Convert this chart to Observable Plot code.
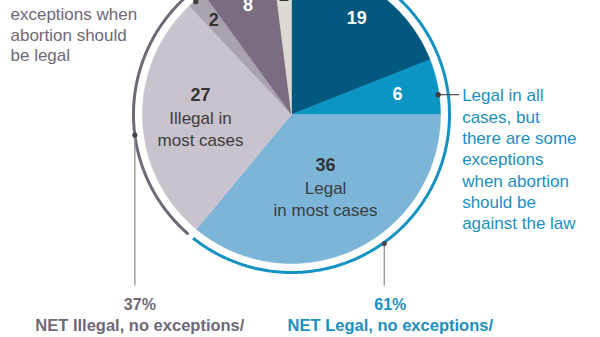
<!DOCTYPE html>
<html>
<head>
<meta charset="utf-8">
<script src="https://cdn.jsdelivr.net/npm/d3@7"></script>
<script src="https://cdn.jsdelivr.net/npm/@observablehq/plot@0.6"></script>
<style>
  html, body { margin: 0; padding: 0; background: #fff; }
  #chart svg { display: block; }
</style>
</head>
<body>
<div id="chart"></div>
<script>
// ---------- data ----------
const categories = [
  "Legal in all cases, no exceptions",
  "Legal in all cases, but there are some exceptions when abortion should be against the law",
  "Legal in most cases",
  "Illegal in most cases",
  "Illegal in all cases, but there are some exceptions when abortion should be legal",
  "Illegal in all cases, no exceptions",
  "No answer"
];
const values = [19, 6, 36, 27, 2, 8, 2];
const sliceDescriptions = ["", "", "Legal\nin most cases", "Illegal in\nmost cases", "", "", ""];
const netNames = ["NET Legal, no exceptions/", "NET Illegal, no exceptions/"];
const netValues = [61, 37];
const netMembers = [[0, 1, 2], [3, 4, 5]];
const rightLabel = "Legal in all\ncases, but\nthere are some\nexceptions\nwhen abortion\nshould be\nagainst the law";
const leftLabel = "Illegal in all\ncases, but\nthere are some\nexceptions when\nabortion should\nbe legal";

// ---------- styles / layout ----------
const sliceColors = ["#02587f", "#0b95c4", "#7bb5d7", "#c9c3cd", "#aaa2af", "#7a6d80", "#dcdad3"];
const numberColors = ["#ffffff", "#ffffff", "#333333", "#333333", "#333333", "#ffffff", "#333333"];
const netColors = ["#1592c4", "#71687a"];
const netTextColors = ["#1b8fc1", "#6f6878"];
const R = 149, ringR = 158;
const labelR = [116, 108, 80, 91, 122, 118, 120];
const deg = Math.PI / 180;
const font = "Liberation Sans, Arial, sans-serif";

const polar = (a, r) => ({x: r * Math.sin(a), y: -r * Math.cos(a)});

const pie = d3.pie().sort(null).value(d => d)(values);

// slice polygons
const slicePts = [];
pie.forEach((p, i) => {
  slicePts.push({key: i, color: sliceColors[i], ...polar(0, 0)});
  const n = Math.max(4, Math.ceil((p.endAngle - p.startAngle) / (0.5 * deg)));
  for (let k = 0; k <= n; k++) {
    const a = p.startAngle + (p.endAngle - p.startAngle) * k / n;
    slicePts.push({key: i, color: sliceColors[i], ...polar(a, R)});
  }
  slicePts.push({key: i, color: sliceColors[i], ...polar(0, 0)});
});

// NET rings
const ringPts = [];
const gap = 1.1 * deg;
netMembers.forEach((m, j) => {
  const a0 = pie[m[0]].startAngle + (j === 0 ? 0 : gap);
  const a1 = pie[m[m.length - 1]].endAngle - (j === 0 ? gap : 0);
  const n = Math.ceil((a1 - a0) / (0.5 * deg));
  for (let k = 0; k <= n; k++) {
    ringPts.push({key: j, color: netColors[j], ...polar(a0 + (a1 - a0) * k / n, ringR)});
  }
});

// slice labels
const labels = pie.map((p, i) => {
  const a = (p.startAngle + p.endAngle) / 2;
  const c = polar(a, labelR[i]);
  const hasDesc = sliceDescriptions[i] !== "";
  return {x: c.x, y: c.y, num: String(values[i]), numY: c.y - (hasDesc ? 22 : 0),
          desc: sliceDescriptions[i], descY: c.y + 11, fill: numberColors[i]};
});
const descLabels = labels.filter(d => d.desc);

// annotation geometry
const leftDot = polar(262.5 * deg, ringR);
const rightDot = polar(144.3 * deg, ringR + 1);
const bottomLineY = 171;
const sixDot = polar(82.3 * deg, R - 1);
const twoDot = polar(319.7 * deg, R - 1);

const netAnn = [
  {x: rightDot.x, y: rightDot.y, tx: rightDot.x + 6, name: netNames[0], pct: netValues[0] + "%", color: netTextColors[0]},
  {x: leftDot.x, y: leftDot.y, tx: leftDot.x + 5, name: netNames[1], pct: netValues[1] + "%", color: netTextColors[1]}
];

const chart = Plot.plot({
  width: 600,
  height: 337,
  margin: 0,
  x: {domain: [-291, 309], axis: null},
  y: {domain: [-114, 223], reverse: true, axis: null},
  style: {fontFamily: font, background: "#fff"},
  marks: [
    Plot.line(slicePts, {x: "x", y: "y", z: "key", fill: "color", stroke: "color", strokeWidth: 0.5}),
    Plot.line(ringPts, {x: "x", y: "y", z: "key", stroke: "color", strokeWidth: 3, strokeLinecap: "butt"}),
    // NET leader lines
    Plot.link(netAnn, {x1: "x", y1: "y", x2: "x", y2: bottomLineY, stroke: "#938d99", strokeWidth: 1.3}),
    Plot.dot(netAnn, {x: "x", y: "y", r: 2.6, fill: "#4a4650"}),
    // right label leader
    Plot.link([sixDot], {x1: "x", y1: "y", x2: d => d.x + 21, y2: "y", stroke: "#4a4a4a", strokeWidth: 1.2}),
    Plot.dot([sixDot], {x: "x", y: "y", r: 2.6, fill: "#3d3d3d"}),
    // top-left label leader
    Plot.link([twoDot], {x1: "x", y1: "y", x2: d => d.x - 12, y2: d => d.y - 14, stroke: "#4a4a4a", strokeWidth: 1.2}),
    Plot.dot([twoDot], {x: "x", y: "y", r: 2.6, fill: "#3d3d3d"}),
    // slice numbers
    Plot.text(labels, {x: "x", y: "numY", text: "num", fill: "fill", fontWeight: "bold", fontSize: 18}),
    Plot.text(descLabels, {x: "x", y: "descY", text: "desc", fill: "#3c3c3c", fontSize: 17, lineHeight: 1.29}),
    // right outside label
    Plot.text([sixDot], {x: d => d.x + 24, y: d => d.y + 3 * 21.3, text: [rightLabel], textAnchor: "start",
      fill: "#1b8fc1", fontSize: 17, lineHeight: 1.253}),
    // top-left outside label
    Plot.text([twoDot], {x: -281, y: -110.5, text: [leftLabel], textAnchor: "start",
      fill: "#6f6878", fontSize: 17, lineHeight: 1.18}),
    // NET labels
    Plot.text(netAnn, {x: "tx", y: 190, text: "pct", fill: "color", fontWeight: "bold", fontSize: 16}),
    Plot.text(netAnn, {x: "tx", y: 211, text: "name", fill: "color", fontWeight: "bold", fontSize: 16.5})
  ]
});
document.getElementById("chart").appendChild(chart);
</script>
</body>
</html>
